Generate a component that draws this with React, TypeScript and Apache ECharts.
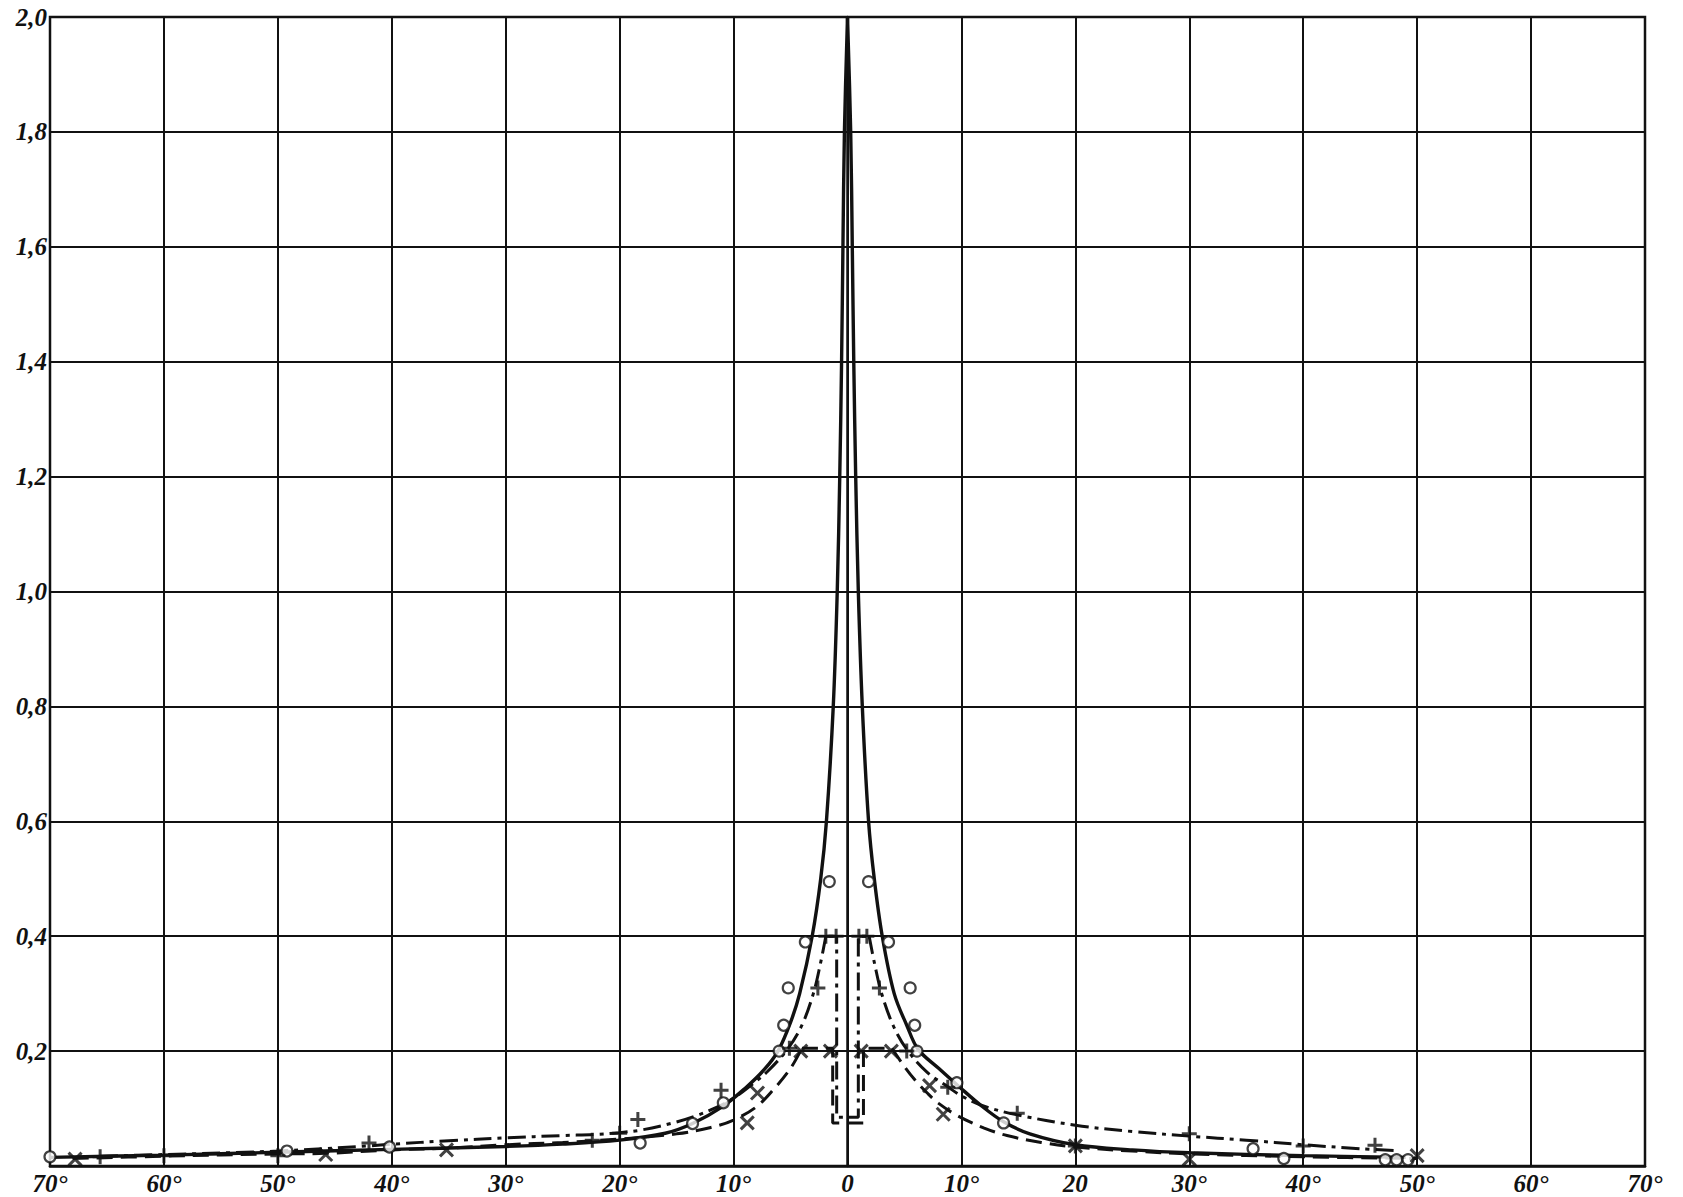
import { useEffect, useRef } from 'react';
import * as echarts from 'echarts';

const xTickLabels = ['70°', '60°', '50°', '40°', '30°', '20°', '10°', '0', '10°', '20', '30°', '40°', '50°', '60°', '70°'];
const yTickLabels = ['', '0,2', '0,4', '0,6', '0,8', '1,0', '1,2', '1,4', '1,6', '1,8', '2,0'];

// solid curve (o)
const solidLeft: [number, number][] = [
  [-70, 0.015], [-60, 0.019], [-50, 0.024], [-40, 0.029], [-30, 0.034], [-25, 0.038], [-20, 0.045],
  [-16, 0.057], [-13.6, 0.074], [-11, 0.103], [-9, 0.135], [-7.3, 0.168], [-6.1, 0.2], [-5, 0.25],
  [-4.2, 0.3], [-3.1, 0.4], [-2.35, 0.5], [-1.85, 0.6], [-1.25, 0.8], [-0.9, 1.0], [-0.68, 1.2],
  [-0.52, 1.4], [-0.4, 1.6], [-0.27, 1.8], [0, 2.0],
];
const solidRight: [number, number][] = [
  [0, 2.0], [0.28, 1.8], [0.42, 1.6], [0.55, 1.4], [0.72, 1.2], [0.95, 1.0], [1.3, 0.8], [1.85, 0.6],
  [2.35, 0.5], [3.05, 0.4], [4.1, 0.3], [5.2, 0.245], [6.2, 0.203], [8, 0.17], [9.8, 0.138],
  [11.8, 0.104], [13.7, 0.077], [16, 0.056], [20, 0.037], [25, 0.028], [30, 0.023], [40, 0.018], [49, 0.015],
];

// dash-dot curve (+)
const dashDotLeft: [number, number][] = [
  [-65.6, 0.017], [-60, 0.02], [-50, 0.026], [-42, 0.035], [-40, 0.038], [-35, 0.044], [-30, 0.049],
  [-25, 0.053], [-22, 0.055], [-20, 0.058], [-18, 0.063], [-15.5, 0.074], [-13.5, 0.086], [-11.5, 0.102],
  [-10, 0.118], [-8.5, 0.14], [-7, 0.165], [-5.2, 0.205], [-4, 0.245], [-3, 0.3], [-2.4, 0.35],
  [-1.9, 0.4],
];
const dashDotCenter: [number, number][] = [
  [-1.9, 0.4], [-0.95, 0.4], [-0.95, 0.085], [0.95, 0.085], [0.95, 0.4], [1.9, 0.4],
];
const dashDotRight: [number, number][] = [
  [1.9, 0.4], [2.4, 0.35], [3, 0.3], [4, 0.245], [5.2, 0.203], [7, 0.163], [8.8, 0.138],
  [10, 0.122], [12, 0.104], [14.9, 0.089], [20, 0.071], [25, 0.06], [30, 0.052], [35, 0.045], [40, 0.037],
  [45, 0.03], [48, 0.027],
];

// dashed curve (x)
const dashedLeft: [number, number][] = [
  [-68, 0.013], [-60, 0.017], [-50, 0.021], [-45.8, 0.022], [-40, 0.028], [-35, 0.031], [-30, 0.037],
  [-25, 0.041], [-20, 0.047], [-15, 0.056], [-12, 0.067], [-10, 0.08], [-8, 0.103], [-6.5, 0.133],
  [-5, 0.17], [-4, 0.205],
];
const dashedCenter: [number, number][] = [
  [-4, 0.205], [-1.3, 0.205], [-1.3, 0.075], [1.4, 0.075], [1.4, 0.205], [3.9, 0.205],
];
const dashedRight: [number, number][] = [
  [3.9, 0.205], [5, 0.173], [6, 0.148], [7, 0.127], [8, 0.109], [9.7, 0.087], [12, 0.066],
  [14, 0.053], [17, 0.041], [20, 0.033], [25, 0.026], [30, 0.021], [40, 0.016], [50, 0.013],
];

const circleMarks: [number, number][] = [
  [-70, 0.016], [-49.2, 0.026], [-40.2, 0.033], [-18.2, 0.04], [-13.6, 0.074], [-10.9, 0.11],
  [-6, 0.2], [-5.6, 0.245], [-5.2, 0.31], [-3.7, 0.39], [-1.6, 0.495], [0, 2.005], [1.85, 0.495],
  [3.6, 0.39], [5.5, 0.31], [5.9, 0.245], [6.1, 0.2], [9.6, 0.145], [13.7, 0.075], [35.6, 0.03],
  [38.3, 0.013], [47.2, 0.011], [48.2, 0.011], [49.2, 0.011],
];
const plusMarks: [number, number][] = [
  [-65.6, 0.016], [-60, 0.018], [-50, 0.018], [-42, 0.04], [-22.4, 0.045], [-20, 0.057], [-18.4, 0.081],
  [-11.1, 0.132], [-5.1, 0.205], [-2.6, 0.31], [-1.9, 0.4], [-1.0, 0.4], [1.0, 0.4], [1.7, 0.4],
  [2.8, 0.31], [5.2, 0.2], [8.8, 0.137], [14.9, 0.092], [20, 0.035], [30, 0.056], [40, 0.035], [46.3, 0.036],
];
const crossMarks: [number, number][] = [
  [-67.8, 0.012], [-45.8, 0.02], [-35.2, 0.028], [-8.8, 0.075], [-7.9, 0.127], [-4.1, 0.2], [-1.5, 0.2],
  [1.2, 0.2], [3.85, 0.2], [7.2, 0.14], [8.4, 0.09], [20, 0.035], [30, 0.012], [50, 0.018],
];

const INK = '#111';
const DASHED = [16, 8];
const DASHDOT = [18, 6, 4, 6];

export default function App() {
  const ref = useRef<HTMLDivElement>(null);
  useEffect(() => {
    const chart = echarts.init(ref.current!, null, { renderer: 'svg' });
    const labelFont = {
      fontFamily: 'Liberation Serif',
      fontStyle: 'italic' as const,
      fontWeight: 'bold' as const,
      fontSize: 25,
      color: INK,
    };
    const lineSeries = (data: [number, number][], type: any, width: number, smooth: number | boolean) => ({
      type: 'line',
      data,
      smooth,
      symbol: 'none',
      lineStyle: { color: INK, width, type },
      z: 3,
    });
    chart.setOption({
      animation: false,
      backgroundColor: '#fff',
      grid: { left: 50, right: 38, top: 17, bottom: 31, show: true, borderColor: INK, borderWidth: 2.5 },
      xAxis: {
        type: 'value',
        min: -70,
        max: 70,
        interval: 10,
        axisLine: { show: true, onZero: false, lineStyle: { color: INK, width: 2.5 } },
        axisTick: { show: false },
        splitLine: { show: true, lineStyle: { color: INK, width: 2 } },
        axisLabel: {
          ...labelFont,
          margin: 5,
          formatter: (v: number) => xTickLabels[Math.round((v + 70) / 10)] ?? '',
        },
      },
      yAxis: {
        type: 'value',
        min: 0,
        max: 2,
        interval: 0.2,
        axisLine: { show: true, lineStyle: { color: INK, width: 2.5 } },
        axisTick: { show: false },
        splitLine: { show: true, lineStyle: { color: INK, width: 2 } },
        axisLabel: {
          ...labelFont,
          margin: 3,
          formatter: (v: number) => yTickLabels[Math.round(v / 0.2)] ?? '',
        },
      },
      series: [
        lineSeries(solidLeft, 'solid', 3.4, 0.35),
        lineSeries(solidRight, 'solid', 3.4, 0.35),
        lineSeries(dashDotLeft, DASHDOT, 3, 0.35),
        lineSeries(dashDotCenter, DASHDOT, 3, false),
        lineSeries(dashDotRight, DASHDOT, 3, 0.35),
        lineSeries(dashedLeft, DASHED, 3, 0.35),
        lineSeries(dashedCenter, DASHED, 3, false),
        lineSeries(dashedRight, DASHED, 3, 0.35),
        {
          type: 'scatter',
          data: circleMarks,
          symbol: 'circle',
          symbolSize: 11,
          itemStyle: { color: '#fff', borderColor: INK, borderWidth: 2.2 },
          z: 5,
        },
        {
          type: 'scatter',
          data: plusMarks,
          symbol: 'path://M0,5L10,5M5,0L5,10',
          symbolSize: 15,
          itemStyle: { color: 'rgba(0,0,0,0)', borderColor: INK, borderWidth: 3 },
          z: 5,
        },
        {
          type: 'scatter',
          data: crossMarks,
          symbol: 'path://M0,0L10,10M10,0L0,10',
          symbolSize: 13,
          itemStyle: { color: 'rgba(0,0,0,0)', borderColor: INK, borderWidth: 3 },
          z: 5,
        },
      ],
    });
    return () => chart.dispose();
  }, []);
  return (
    <div
      ref={ref}
      style={{ position: 'absolute', left: 0, top: 0, width: 1683, height: 1197, background: '#fff' }}
    />
  );
}
